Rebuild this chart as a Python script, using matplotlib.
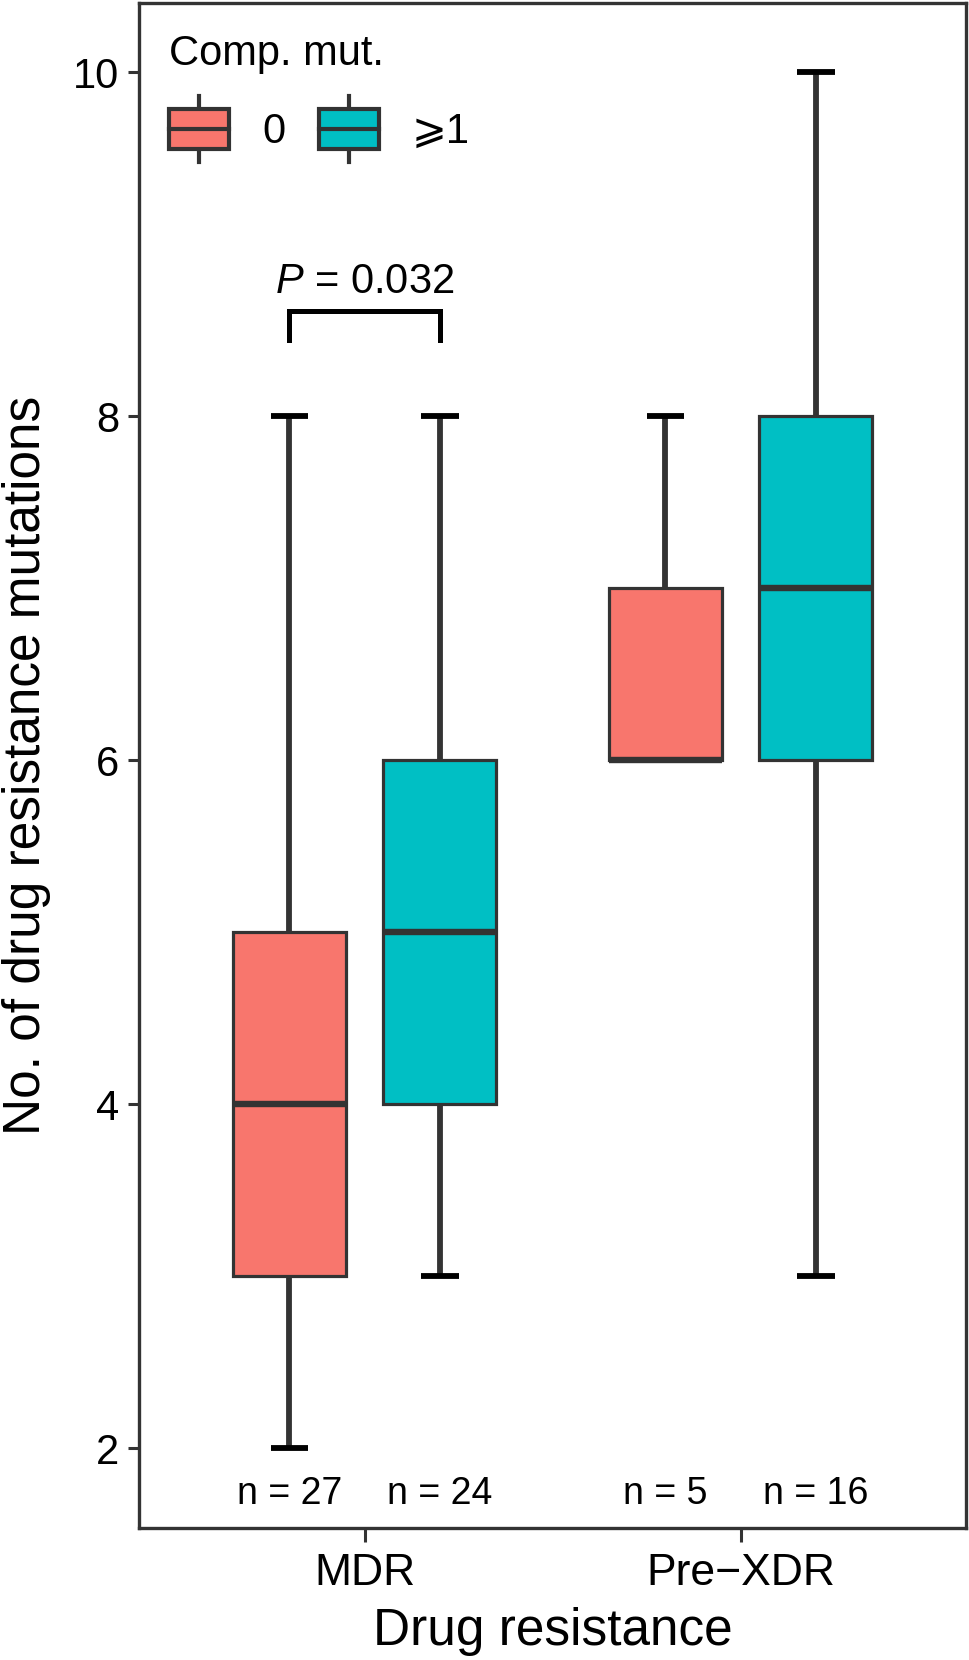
import matplotlib
matplotlib.use('Agg')
import matplotlib.pyplot as plt
from matplotlib.legend_handler import HandlerBase
from matplotlib.patches import Rectangle, Patch
from matplotlib.lines import Line2D

# ---------------- data ----------------
groups = ['MDR', 'Pre\u2212XDR']
levels = ['0', '\u2a7e1']
colors = ['#F8766D', '#00BFC4']

# per level, values for [MDR, Pre-XDR]
whislo_0 = [2, 6]
q1_0 = [3, 6]
med_0 = [4, 6]
q3_0 = [5, 7]
whishi_0 = [8, 8]
n_0 = [27, 5]

whislo_1 = [3, 3]
q1_1 = [4, 6]
med_1 = [5, 7]
q3_1 = [6, 8]
whishi_1 = [8, 10]
n_1 = [24, 16]

p_value = '0.032'
yticks = [2, 4, 6, 8, 10]

# ---------------- style ----------------
plt.rcParams['font.family'] = ['Liberation Sans', 'DejaVu Sans']
plt.rcParams['mathtext.fontset'] = 'custom'
plt.rcParams['mathtext.it'] = 'Liberation Sans:italic'
plt.rcParams['mathtext.rm'] = 'Liberation Sans'
dark = '#333333'

fig = plt.figure(figsize=(9.69, 16.6), dpi=100)
ax = fig.add_axes([0.1434, 0.0795, 0.8536, 0.9185])

offsets = [-0.2, 0.2]
level_data = [
    (whislo_0, q1_0, med_0, q3_0, whishi_0, n_0),
    (whislo_1, q1_1, med_1, q3_1, whishi_1, n_1),
]
for j, (wlo, q1, med, q3, whi, nn) in enumerate(level_data):
    for i in range(len(groups)):
        pos = i + 1 + offsets[j]
        stats = [dict(whislo=wlo[i], q1=q1[i], med=med[i], q3=q3[i], whishi=whi[i], fliers=[])]
        ax.bxp(stats, positions=[pos], widths=0.3, capwidths=0.1,
               patch_artist=True, showfliers=False,
               boxprops=dict(facecolor=colors[j], edgecolor=dark, linewidth=2.3, zorder=3),
               whiskerprops=dict(color=dark, linewidth=4.2, zorder=2, solid_capstyle='butt'),
               capprops=dict(color='black', linewidth=4.2, zorder=2, solid_capstyle='butt'),
               medianprops=dict(color=dark, linewidth=4.6, zorder=4, solid_capstyle='butt'),
               manage_ticks=False)
        ax.text(pos, 1.73, f'n = {nn[i]}', ha='center', va='center', fontsize=27, color='black')

# significance bracket between MDR groups
x1 = 1 + offsets[0]
x2 = 1 + offsets[1]
ax.plot([x1, x1, x2, x2], [8.44, 8.61, 8.61, 8.44], color='black', linewidth=3.6,
        solid_joinstyle='miter', zorder=5)
ax.text((x1 + x2) / 2, 8.78, '$P$ = ' + p_value, ha='center', va='center', fontsize=30)

ax.set_xlim(0.4, 2.6)
ax.set_ylim(1.535, 10.4)
ax.set_xticks([1, 2])
ax.set_xticklabels(groups)
ax.set_yticks(yticks)
ax.set_yticklabels([str(t) for t in yticks])
ax.tick_params(axis='x', labelsize=32, length=10, width=2.2, color=dark, pad=8)
ax.tick_params(axis='y', labelsize=30, length=8, width=2.2, color=dark, pad=6)
for sp in ax.spines.values():
    sp.set_linewidth(2.4)
    sp.set_color(dark)
ax.set_xlabel('Drug resistance', fontsize=37, labelpad=9)
ax.set_ylabel('No. of drug resistance mutations', fontsize=37, labelpad=16)


class BoxHandler(HandlerBase):
    def create_artists(self, legend, orig_handle, xdescent, ydescent, width, height, fontsize, trans):
        fc = orig_handle.get_facecolor()
        x0, y0 = -xdescent, -ydescent
        cx = x0 + width / 2
        ext = height * 0.33
        wl = Line2D([cx, cx], [y0 - ext, y0 + height + ext], color=dark, linewidth=3.0, transform=trans)
        r = Rectangle((x0, y0), width, height, facecolor=fc, edgecolor=dark, linewidth=3.0, transform=trans)
        ml = Line2D([x0, x0 + width], [y0 + height / 2] * 2, color=dark, linewidth=3.0, transform=trans)
        return [wl, r, ml]


handles = [Patch(facecolor=c) for c in colors]
leg = ax.legend(handles, levels, title='Comp. mut.', ncol=2, frameon=False,
                loc='upper left', bbox_to_anchor=(0.036, 0.980), fontsize=30, title_fontsize=30,
                handler_map={Patch: BoxHandler()}, handlelength=1.44, handleheight=1.08,
                handletextpad=0.8, columnspacing=0.8, borderpad=0, borderaxespad=0,
                labelspacing=0.85, alignment='left')

fig.savefig('out.png', dpi=100)
